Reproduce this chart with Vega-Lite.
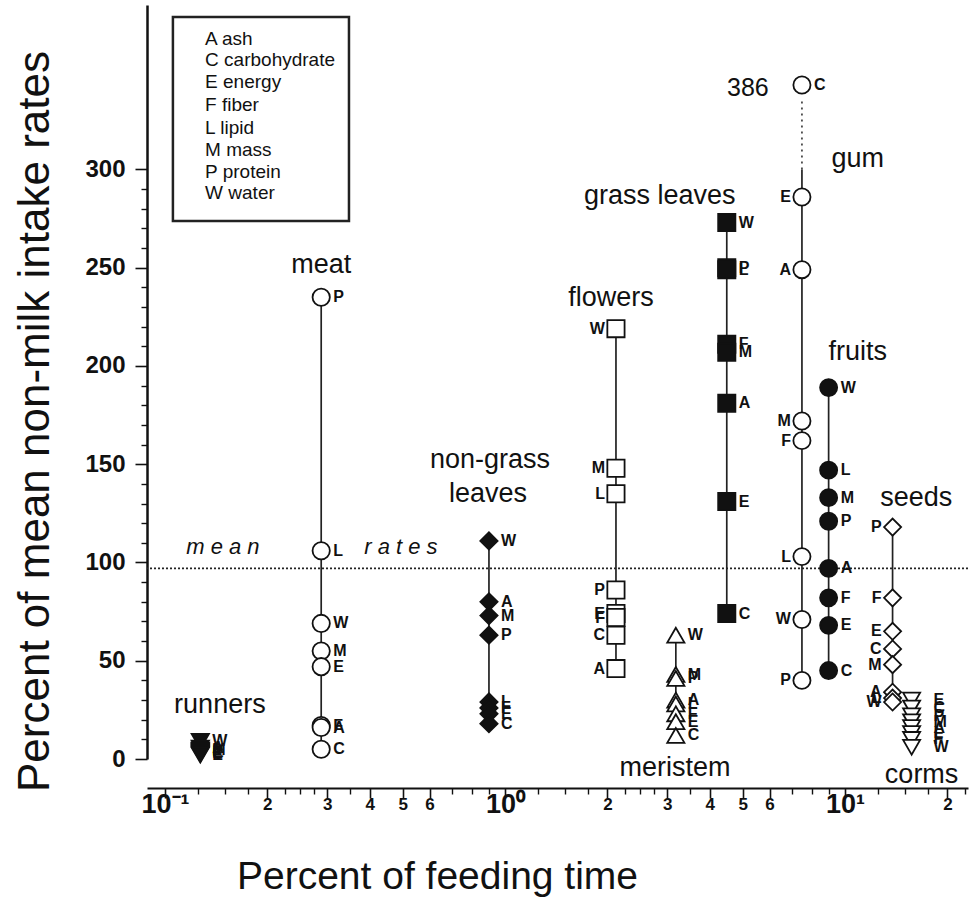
{
  "$schema": "https://vega.github.io/schema/vega-lite/v6.json",
  "width": 821,
  "height": 754,
  "autosize": {"type": "none"},
  "padding": {"left": 147, "top": 5, "right": 2, "bottom": 145},
  "background": "white",
  "config": {"view": {"stroke": null}, "font": "Liberation Sans"},
  "datasets": {
    "points": [
      {"group": "runners", "nutrient": "W", "time": 0.127, "rate": 9},
      {"group": "runners", "nutrient": "A", "time": 0.127, "rate": 5.5},
      {"group": "runners", "nutrient": "M", "time": 0.127, "rate": 4.5},
      {"group": "runners", "nutrient": "P", "time": 0.127, "rate": 4},
      {"group": "runners", "nutrient": "L", "time": 0.127, "rate": 3.5},
      {"group": "runners", "nutrient": "F", "time": 0.127, "rate": 3},
      {"group": "runners", "nutrient": "C", "time": 0.127, "rate": 2.5},
      {"group": "runners", "nutrient": "E", "time": 0.127, "rate": 2},
      {"group": "meat", "nutrient": "P", "time": 0.288, "rate": 235},
      {"group": "meat", "nutrient": "L", "time": 0.288, "rate": 106},
      {"group": "meat", "nutrient": "W", "time": 0.288, "rate": 69},
      {"group": "meat", "nutrient": "M", "time": 0.288, "rate": 55},
      {"group": "meat", "nutrient": "E", "time": 0.288, "rate": 47},
      {"group": "meat", "nutrient": "F", "time": 0.288, "rate": 17},
      {"group": "meat", "nutrient": "A", "time": 0.288, "rate": 16},
      {"group": "meat", "nutrient": "C", "time": 0.288, "rate": 5},
      {"group": "non-grass leaves", "nutrient": "W", "time": 0.897, "rate": 111},
      {"group": "non-grass leaves", "nutrient": "A", "time": 0.897, "rate": 80},
      {"group": "non-grass leaves", "nutrient": "M", "time": 0.897, "rate": 73},
      {"group": "non-grass leaves", "nutrient": "P", "time": 0.897, "rate": 63},
      {"group": "non-grass leaves", "nutrient": "L", "time": 0.897, "rate": 29},
      {"group": "non-grass leaves", "nutrient": "F", "time": 0.897, "rate": 26},
      {"group": "non-grass leaves", "nutrient": "E", "time": 0.897, "rate": 23},
      {"group": "non-grass leaves", "nutrient": "C", "time": 0.897, "rate": 18},
      {"group": "flowers", "nutrient": "W", "time": 2.12, "rate": 219},
      {"group": "flowers", "nutrient": "M", "time": 2.12, "rate": 148},
      {"group": "flowers", "nutrient": "L", "time": 2.12, "rate": 135},
      {"group": "flowers", "nutrient": "P", "time": 2.12, "rate": 86},
      {"group": "flowers", "nutrient": "E", "time": 2.12, "rate": 74},
      {"group": "flowers", "nutrient": "F", "time": 2.12, "rate": 72},
      {"group": "flowers", "nutrient": "C", "time": 2.12, "rate": 63},
      {"group": "flowers", "nutrient": "A", "time": 2.12, "rate": 46},
      {"group": "grass leaves", "nutrient": "W", "time": 4.49, "rate": 273},
      {"group": "grass leaves", "nutrient": "P", "time": 4.49, "rate": 250},
      {"group": "grass leaves", "nutrient": "L", "time": 4.49, "rate": 249},
      {"group": "grass leaves", "nutrient": "F", "time": 4.49, "rate": 211},
      {"group": "grass leaves", "nutrient": "M", "time": 4.49, "rate": 207},
      {"group": "grass leaves", "nutrient": "A", "time": 4.49, "rate": 181},
      {"group": "grass leaves", "nutrient": "E", "time": 4.49, "rate": 131},
      {"group": "grass leaves", "nutrient": "C", "time": 4.49, "rate": 74},
      {"group": "meristem", "nutrient": "W", "time": 3.18, "rate": 63},
      {"group": "meristem", "nutrient": "M", "time": 3.18, "rate": 43},
      {"group": "meristem", "nutrient": "P", "time": 3.18, "rate": 41},
      {"group": "meristem", "nutrient": "A", "time": 3.18, "rate": 30},
      {"group": "meristem", "nutrient": "L", "time": 3.18, "rate": 28},
      {"group": "meristem", "nutrient": "F", "time": 3.18, "rate": 23},
      {"group": "meristem", "nutrient": "E", "time": 3.18, "rate": 19},
      {"group": "meristem", "nutrient": "C", "time": 3.18, "rate": 12},
      {"group": "gum", "nutrient": "C", "time": 7.47, "rate": 343},
      {"group": "gum", "nutrient": "E", "time": 7.47, "rate": 286},
      {"group": "gum", "nutrient": "A", "time": 7.47, "rate": 249},
      {"group": "gum", "nutrient": "M", "time": 7.47, "rate": 172},
      {"group": "gum", "nutrient": "F", "time": 7.47, "rate": 162},
      {"group": "gum", "nutrient": "L", "time": 7.47, "rate": 103},
      {"group": "gum", "nutrient": "W", "time": 7.47, "rate": 71},
      {"group": "gum", "nutrient": "P", "time": 7.47, "rate": 40},
      {"group": "fruits", "nutrient": "W", "time": 8.95, "rate": 189},
      {"group": "fruits", "nutrient": "L", "time": 8.95, "rate": 147},
      {"group": "fruits", "nutrient": "M", "time": 8.95, "rate": 133},
      {"group": "fruits", "nutrient": "P", "time": 8.95, "rate": 121},
      {"group": "fruits", "nutrient": "A", "time": 8.95, "rate": 97},
      {"group": "fruits", "nutrient": "F", "time": 8.95, "rate": 82},
      {"group": "fruits", "nutrient": "E", "time": 8.95, "rate": 68},
      {"group": "fruits", "nutrient": "C", "time": 8.95, "rate": 45},
      {"group": "seeds", "nutrient": "P", "time": 13.8, "rate": 118},
      {"group": "seeds", "nutrient": "F", "time": 13.8, "rate": 82},
      {"group": "seeds", "nutrient": "E", "time": 13.8, "rate": 65},
      {"group": "seeds", "nutrient": "C", "time": 13.8, "rate": 56},
      {"group": "seeds", "nutrient": "M", "time": 13.8, "rate": 48},
      {"group": "seeds", "nutrient": "A", "time": 13.8, "rate": 34},
      {"group": "seeds", "nutrient": "L", "time": 13.8, "rate": 31},
      {"group": "seeds", "nutrient": "W", "time": 13.8, "rate": 29},
      {"group": "corms", "nutrient": "E", "time": 15.7, "rate": 30},
      {"group": "corms", "nutrient": "C", "time": 15.7, "rate": 26},
      {"group": "corms", "nutrient": "P", "time": 15.7, "rate": 22},
      {"group": "corms", "nutrient": "M", "time": 15.7, "rate": 19},
      {"group": "corms", "nutrient": "A", "time": 15.7, "rate": 16},
      {"group": "corms", "nutrient": "L", "time": 15.7, "rate": 13},
      {"group": "corms", "nutrient": "F", "time": 15.7, "rate": 10},
      {"group": "corms", "nutrient": "W", "time": 15.7, "rate": 6}
    ],
    "ranges": [
      {"group": "meat", "time": 0.288, "lo": 5, "hi": 235},
      {"group": "non-grass leaves", "time": 0.897, "lo": 18, "hi": 111},
      {"group": "flowers", "time": 2.12, "lo": 46, "hi": 219},
      {"group": "grass leaves", "time": 4.49, "lo": 74, "hi": 273},
      {"group": "meristem", "time": 3.18, "lo": 12, "hi": 63},
      {"group": "gum", "time": 7.47, "lo": 40, "hi": 300},
      {"group": "fruits", "time": 8.95, "lo": 45, "hi": 189},
      {"group": "seeds", "time": 13.8, "lo": 29, "hi": 118}
    ],
    "breaks": [
      {"group": "gum", "time": 7.47, "lo": 300, "hi": 336}
    ],
    "categories": [
      {"text": "runners", "time": 0.145, "rate": 27.5},
      {"text": "meat", "time": 0.288, "rate": 251.5},
      {"text": "non-grass", "time": 0.903, "rate": 152.2},
      {"text": "leaves", "time": 0.891, "rate": 134.9},
      {"text": "flowers", "time": 2.05, "rate": 234.6},
      {"text": "grass leaves", "time": 2.85, "rate": 286.5},
      {"text": "gum", "time": 10.9, "rate": 305.5},
      {"text": "fruits", "time": 10.9, "rate": 207},
      {"text": "seeds", "time": 16.2, "rate": 133},
      {"text": "meristem", "time": 3.16, "rate": -4.6},
      {"text": "corms", "time": 16.8, "rate": -8}
    ],
    "legendBox": [
      {"t1": 0.1055, "t2": 0.3476, "r1": 377.6, "r2": 273.8}
    ],
    "legendText": [
      {"text": "A ash", "time": 0.1312, "rate": 366.4},
      {"text": "C carbohydrate", "time": 0.1312, "rate": 355.7},
      {"text": "E energy", "time": 0.1312, "rate": 344.5},
      {"text": "F fiber", "time": 0.1312, "rate": 332.8},
      {"text": "L lipid", "time": 0.1312, "rate": 321.1},
      {"text": "M mass", "time": 0.1312, "rate": 310.0},
      {"text": "P protein", "time": 0.1312, "rate": 298.7},
      {"text": "W water", "time": 0.1312, "rate": 288.0}
    ],
    "notes": [
      {"text": "386", "time": 5.18, "rate": 341.5}
    ],
    "meanText": [
      {"text": "m e a n", "time": 0.148, "rate": 107.9},
      {"text": "r a t e s", "time": 0.494, "rate": 107.9}
    ]
  },
  "layer": [
    {
      "data": {"name": "ranges"},
      "mark": {"type": "rule", "strokeWidth": 1.7, "color": "#222"},
      "encoding": {
        "x": {
          "field": "time", "type": "quantitative",
          "scale": {"type": "log", "domain": [0.08852, 23.0], "nice": false},
          "axis": {
            "orient": "bottom", "offset": 29, "grid": false,
            "values": [0.1, 0.2, 0.3, 0.4, 0.5, 0.6, 1, 2, 3, 4, 5, 6, 10, 20],
            "tickSize": 10, "tickWidth": 1.6, "tickColor": "#111",
            "domainColor": "#111", "domainWidth": 2.2,
            "labelExpr": "datum.value==0.1?'10⁻¹':datum.value==1?'10⁰':datum.value==10?'10¹':substring(format(datum.value,'.0e'),0,1)",
            "labelFont": "Liberation Sans",
            "labelFontSize": {"condition": {"test": "datum.value==0.1||datum.value==1||datum.value==10", "value": 27}, "value": 17},
            "labelFontWeight": "bold", "labelColor": "#111",
            "labelPadding": 6, "labelBaseline": "middle",
            "labelFlush": false, "labelOverlap": false, "labelBound": false,
            "title": "Percent of feeding time",
            "titleFont": "Liberation Sans", "titleFontSize": 39, "titleFontWeight": "normal", "titleColor": "#111",
            "titleX": 290, "titleY": 88, "titleBaseline": "middle", "titleAlign": "center"
          }
        },
        "y": {
          "field": "lo", "type": "quantitative",
          "scale": {"domain": [0, 383.7], "nice": false, "zero": true},
          "axis": {
            "orient": "left", "grid": false,
            "values": [0, 50, 100, 150, 200, 250, 300],
            "tickSize": 12, "tickWidth": 1.6, "tickColor": "#111",
            "domainColor": "#111", "domainWidth": 2.5,
            "labelFont": "Liberation Sans", "labelFontSize": 24, "labelFontWeight": "bold", "labelColor": "#111",
            "labelPadding": 10, "labelOverlap": false, "labelBound": false, "labelFlush": false,
            "title": "Percent of mean non-milk intake rates",
            "titleFont": "Liberation Sans", "titleFontSize": 44, "titleFontWeight": "normal", "titleColor": "#111",
            "titleX": -112, "titleY": 416, "titleAngle": -90, "titleBaseline": "middle", "titleAlign": "center"
          }
        },
        "y2": {"field": "hi"}
      }
    },
    {
      "data": {"name": "breaks"},
      "mark": {"type": "rule", "strokeWidth": 1.6, "color": "#333", "strokeDash": [2, 4]},
      "encoding": {
        "x": {"field": "time", "type": "quantitative", "axis": null},
        "y": {"field": "lo", "type": "quantitative", "axis": null},
        "y2": {"field": "hi"}
      }
    },
    {
      "data": {"values": [{}]},
      "mark": {"type": "rule", "strokeWidth": 1.6, "color": "#222", "strokeDash": [2, 2]},
      "encoding": {
        "y": {"datum": 97, "type": "quantitative", "axis": null}
      }
    },
    {
      "data": {"name": "points"},
      "mark": {"type": "point", "stroke": "#111", "strokeWidth": 1.8, "opacity": 1},
      "encoding": {
        "x": {
          "field": "time", "type": "quantitative",
          "axis": {
            "orient": "bottom", "offset": 29, "grid": false, "domain": false, "labels": false, "title": null,
            "values": [0.125, 0.15, 0.175, 0.225, 0.25, 0.275, 0.35, 0.7, 0.8, 0.9, 1.25, 1.5, 1.75, 2.25, 2.5, 2.75, 3.5, 7, 8, 9, 12.5, 15, 17.5, 22.5],
            "tickSize": 6, "tickWidth": 1.4, "tickColor": "#111"
          }
        },
        "y": {
          "field": "rate", "type": "quantitative",
          "axis": {
            "orient": "left", "grid": false, "domain": false, "labels": false, "title": null,
            "values": [10, 20, 30, 40, 60, 70, 80, 90, 110, 120, 130, 140, 160, 170, 180, 190, 210, 220, 230, 240, 260, 270, 280, 290],
            "tickSize": 6, "tickWidth": 1.4, "tickColor": "#111"
          }
        },
        "shape": {
          "field": "group", "type": "nominal", "legend": null,
          "scale": {
            "domain": ["runners", "meat", "non-grass leaves", "flowers", "grass leaves", "meristem", "gum", "fruits", "seeds", "corms"],
            "range": ["triangle-down", "circle", "diamond", "square", "square", "triangle-up", "circle", "circle", "diamond", "triangle-down"]
          }
        },
        "fill": {
          "field": "group", "type": "nominal", "legend": null,
          "scale": {
            "domain": ["runners", "meat", "non-grass leaves", "flowers", "grass leaves", "meristem", "gum", "fruits", "seeds", "corms"],
            "range": ["#111", "white", "#111", "white", "#111", "white", "white", "#111", "white", "white"]
          }
        },
        "size": {
          "field": "group", "type": "nominal", "legend": null,
          "scale": {
            "domain": ["runners", "meat", "non-grass leaves", "flowers", "grass leaves", "meristem", "gum", "fruits", "seeds", "corms"],
            "range": [300, 290, 650, 240, 240, 330, 290, 270, 700, 300]
          }
        }
      }
    },
    {
      "data": {"name": "points"},
      "transform": [{"filter": "indexof(['runners','meat','non-grass leaves','grass leaves','meristem','fruits'], datum.group) >= 0 || (datum.group == 'gum' && datum.rate > 330)"}],
      "mark": {"type": "text", "align": "left", "baseline": "middle", "dx": 12, "font": "Liberation Sans", "fontSize": 16, "fontWeight": "bold", "color": "#111"},
      "encoding": {
        "x": {"field": "time", "type": "quantitative", "axis": null},
        "y": {"field": "rate", "type": "quantitative", "axis": null},
        "text": {"field": "nutrient"}
      }
    },
    {
      "data": {"name": "points"},
      "transform": [{"filter": "datum.group == 'corms'"}],
      "mark": {"type": "text", "align": "left", "baseline": "middle", "dx": 22, "font": "Liberation Sans", "fontSize": 16, "fontWeight": "bold", "color": "#111"},
      "encoding": {
        "x": {"field": "time", "type": "quantitative", "axis": null},
        "y": {"field": "rate", "type": "quantitative", "axis": null},
        "text": {"field": "nutrient"}
      }
    },
    {
      "data": {"name": "points"},
      "transform": [{"filter": "datum.group == 'flowers' || datum.group == 'seeds' || (datum.group == 'gum' && datum.rate < 330)"}],
      "mark": {"type": "text", "align": "right", "baseline": "middle", "dx": -11, "font": "Liberation Sans", "fontSize": 16, "fontWeight": "bold", "color": "#111"},
      "encoding": {
        "x": {"field": "time", "type": "quantitative", "axis": null},
        "y": {"field": "rate", "type": "quantitative", "axis": null},
        "text": {"field": "nutrient"}
      }
    },
    {
      "data": {"name": "categories"},
      "mark": {"type": "text", "align": "center", "baseline": "middle", "font": "Liberation Sans", "fontSize": 27, "color": "#111"},
      "encoding": {
        "x": {"field": "time", "type": "quantitative", "axis": null},
        "y": {"field": "rate", "type": "quantitative", "axis": null},
        "text": {"field": "text"}
      }
    },
    {
      "data": {"name": "legendBox"},
      "mark": {"type": "rect", "fillOpacity": 0, "stroke": "#222", "strokeWidth": 2.5},
      "encoding": {
        "x": {"field": "t1", "type": "quantitative", "axis": null},
        "x2": {"field": "t2"},
        "y": {"field": "r1", "type": "quantitative", "axis": null},
        "y2": {"field": "r2"}
      }
    },
    {
      "data": {"name": "legendText"},
      "mark": {"type": "text", "align": "left", "baseline": "middle", "font": "Liberation Sans", "fontSize": 19, "color": "#111"},
      "encoding": {
        "x": {"field": "time", "type": "quantitative", "axis": null},
        "y": {"field": "rate", "type": "quantitative", "axis": null},
        "text": {"field": "text"}
      }
    },
    {
      "data": {"name": "notes"},
      "mark": {"type": "text", "align": "center", "baseline": "middle", "font": "Liberation Sans", "fontSize": 25, "color": "#111"},
      "encoding": {
        "x": {"field": "time", "type": "quantitative", "axis": null},
        "y": {"field": "rate", "type": "quantitative", "axis": null},
        "text": {"field": "text"}
      }
    },
    {
      "data": {"name": "meanText"},
      "mark": {"type": "text", "align": "center", "baseline": "middle", "font": "Liberation Sans", "fontSize": 22, "fontStyle": "italic", "color": "#111"},
      "encoding": {
        "x": {"field": "time", "type": "quantitative", "axis": null},
        "y": {"field": "rate", "type": "quantitative", "axis": null},
        "text": {"field": "text"}
      }
    }
  ],
  "resolve": {"axis": {"x": "independent", "y": "independent"}}
}
